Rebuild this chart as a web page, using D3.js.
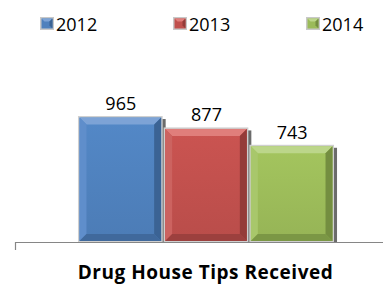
<!DOCTYPE html>
<html><head><meta charset="utf-8">
<script src="https://cdn.jsdelivr.net/npm/d3@7"></script>
<style>body{margin:0;background:#fff;}svg{display:block;font-family:"Open Sans",sans-serif;}</style>
</head><body>
<svg id="c" width="383" height="285"></svg>
<script>
const categories = ["Drug House Tips Received"];
const seriesNames = ["2012", "2013", "2014"];
const values2012 = [965];
const values2013 = [877];
const values2014 = [743];
const seriesValues = [values2012, values2013, values2014];
const colors = {
  "2012": {face:"#4F81BD", light:"#7DA3D6", side:"#5F8ECB", dark:"#3B6394", bottom:"#40699C"},
  "2013": {face:"#C0504D", light:"#E07E7B", side:"#CC6360", dark:"#943B39", bottom:"#9C403E"},
  "2014": {face:"#9BBB59", light:"#BCD68A", side:"#A8C76B", dark:"#748E40", bottom:"#7B9745"}
};

const svg = d3.select("#c");
const x0 = d3.scaleBand().domain(categories).range([15, 398]).paddingInner(0).paddingOuter(0.245);
const x1 = d3.scaleBand().domain(seriesNames).range([0, x0.bandwidth()]).padding(0);
const y = d3.scaleLinear().domain([0, 1200]).range([242, 86.6]);

// axis
const axisG = svg.append("g").attr("transform", "translate(0,242)");
axisG.append("line").attr("x1", 15).attr("x2", 383).attr("y1", 0.5).attr("y2", 0.5).attr("stroke", "#868686").attr("stroke-width", 1.2);
axisG.append("line").attr("x1", 15.5).attr("x2", 15.5).attr("y1", 0).attr("y2", 8).attr("stroke", "#868686").attr("stroke-width", 1.2);

const data = [];
categories.forEach((c, ci) => seriesNames.forEach((s, si) => data.push({cat: c, s, v: seriesValues[si][ci]})));

const defs = svg.append("defs");
seriesNames.forEach(s => {
  const g = defs.append("linearGradient").attr("id", "g" + s).attr("x1", 0).attr("x2", 0).attr("y1", 0).attr("y2", 1);
  g.append("stop").attr("offset", 0).attr("stop-color", d3.color(colors[s].face).brighter(0.15));
  g.append("stop").attr("offset", 1).attr("stop-color", d3.color(colors[s].face).darker(0.1));
});

const bars = svg.append("g").selectAll("g").data(data).join("g");
bars.each(function(d) {
  const g = d3.select(this);
  const x = x0(d.cat) + x1(d.s), w = x1.bandwidth(), yt = y(d.v), h = y(0) - yt;
  const c = colors[d.s];
  const b = 7;
  g.append("rect").attr("x", x + w - 2).attr("y", yt + 2).attr("width", 4).attr("height", h - 2).attr("fill", "#3a3a3a").attr("opacity", 0.75);
  g.append("rect").attr("x", x).attr("y", yt - 1).attr("width", w - 1).attr("height", h + 1).attr("fill", "#cfcfcf");
  const ix = x + 1.5, iy = yt + 0.5, iw = w - 4, ih = h - 1.5;
  g.append("rect").attr("x", ix).attr("y", iy).attr("width", iw).attr("height", ih).attr("fill", "url(#g" + d.s + ")");
  const poly = (pts, fill) => g.append("polygon").attr("points", pts.map(p => p.join(",")).join(" ")).attr("fill", fill);
  poly([[ix, iy], [ix + iw, iy], [ix + iw - b, iy + b], [ix + b, iy + b]], c.light);
  poly([[ix, iy], [ix + b, iy + b], [ix + b, iy + ih - b], [ix, iy + ih]], c.side);
  poly([[ix + iw, iy], [ix + iw, iy + ih], [ix + iw - b, iy + ih - b], [ix + iw - b, iy + b]], c.dark);
  poly([[ix, iy + ih], [ix + iw, iy + ih], [ix + iw - b, iy + ih - b], [ix + b, iy + ih - b]], c.bottom);
  g.append("text").attr("x", x + w / 2).attr("y", yt - 7).attr("text-anchor", "middle")
    .attr("font-size", 18).attr("fill", "#000").text(d3.format(",")(d.v));
});

// category label
const title = svg.append("text").attr("x", 205.5).attr("y", 279).attr("text-anchor", "middle")
  .attr("font-size", 19).attr("font-weight", "bold").attr("fill", "#000").text(categories[0]);
const tw = title.node().getComputedTextLength();
const n = categories[0].length;
title.attr("letter-spacing", Math.max(0, (255 - tw) / (n - 1)).toFixed(2));

// legend
const legendX = [40, 173, 306];
const lg = svg.append("g").selectAll("g").data(seriesNames).join("g").attr("transform", (d, i) => `translate(${legendX[i]},17)`);
lg.each(function(s) {
  const g = d3.select(this), c = colors[s];
  g.append("rect").attr("x", 0).attr("y", 0).attr("width", 14).attr("height", 13).attr("fill", "#c8c8c8");
  g.append("rect").attr("x", 1.5).attr("y", 1.5).attr("width", 11).attr("height", 10).attr("fill", c.face);
  g.append("polygon").attr("points", "1.5,1.5 12.5,1.5 9.5,4.5 4.5,4.5").attr("fill", c.light);
  g.append("polygon").attr("points", "12.5,1.5 12.5,11.5 9.5,8.5 9.5,4.5").attr("fill", c.dark);
  g.append("text").attr("x", 16).attr("y", 13.5).attr("font-size", 18).attr("fill", "#000").text(s);
});
</script>
</body></html>
